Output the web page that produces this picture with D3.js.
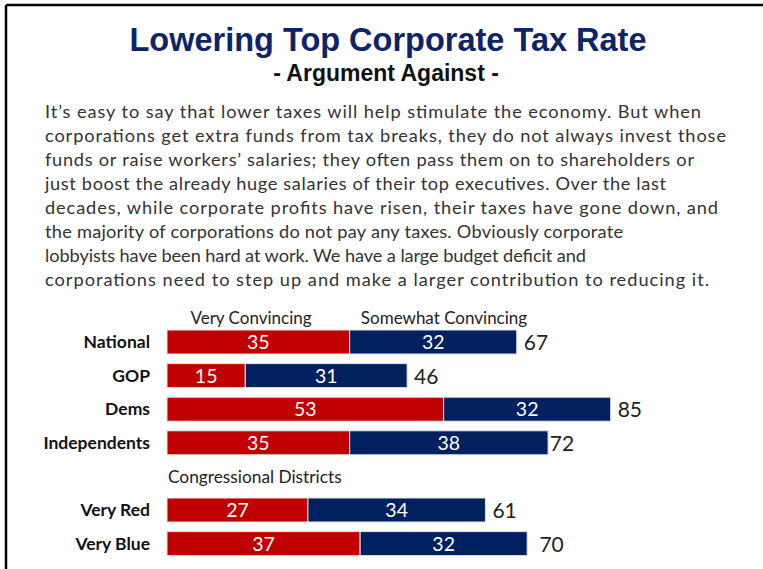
<!DOCTYPE html>
<html>
<head>
<meta charset="utf-8">
<script src="https://cdn.jsdelivr.net/npm/d3@7/dist/d3.min.js"></script>
<style>
  html, body { margin: 0; padding: 0; background: #fff; }
  svg { display: block; }
</style>
</head>
<body>
<svg id="chart" width="763" height="569"></svg>
<script>
// Survey results: share finding the argument convincing
const categories = ["National", "GOP", "Dems", "Independents", "Very Red", "Very Blue"];
const veryConvincing = [35, 15, 53, 35, 27, 37];
const somewhatConvincing = [32, 31, 32, 38, 34, 32];
const totals = [67, 46, 85, 72, 61, 70];
const seriesNames = ["Very Convincing", "Somewhat Convincing"];
const groupHeading = "Congressional Districts";

const titleText = "Lowering Top Corporate Tax Rate";
const subtitleText = "- Argument Against -";
const bodyLines = [
  "It\u2019s easy to say that lower taxes will help stimulate the economy. But when",
  "corporations get extra funds from tax breaks, they do not always invest those",
  "funds or raise workers\u2019 salaries; they often pass them on to shareholders or",
  "just boost the already huge salaries of their top executives. Over the last",
  "decades, while corporate profits have risen, their taxes have gone down, and",
  "the majority of corporations do not pay any taxes. Obviously corporate",
  "lobbyists have been hard at work. We have a large budget deficit and",
  "corporations need to step up and make a larger contribution to reducing it."
];
// set width of each paragraph line (layout only)
const bodyLineWidths = [656, 681, 649, 621, 673, 578, 541, 664];

const RED = "#C00000", NAVY = "#002060";
const bodyFont = "Lato, 'Open Sans', sans-serif";
const headFont = "'Liberation Sans', Arial, sans-serif";

const svg = d3.select("#chart");

// frame lines (left and top)
svg.append("line").attr("x1", 6).attr("y1", 5).attr("x2", 763).attr("y2", 5)
  .attr("stroke", "#000").attr("stroke-width", 2.5);
svg.append("line").attr("x1", 6).attr("y1", 5).attr("x2", 6).attr("y2", 569)
  .attr("stroke", "#000").attr("stroke-width", 2.5);

// title block
svg.append("text").attr("x", 388).attr("y", 51).attr("text-anchor", "middle")
  .attr("font-family", headFont).attr("font-weight", "bold")
  .attr("font-size", 32.5).attr("fill", "#0D2467").text(titleText);
svg.append("text").attr("x", 386).attr("y", 81).attr("text-anchor", "middle")
  .attr("font-family", headFont).attr("font-weight", "bold")
  .attr("font-size", 23).attr("fill", "#111").text(subtitleText);

// argument paragraph
svg.append("g").selectAll("text").data(bodyLines).join("text")
  .attr("x", 45).attr("y", (d, i) => 118 + i * 24)
  .attr("font-family", bodyFont).attr("font-size", 18.2).attr("fill", "#333")
  .attr("textLength", (d, i) => bodyLineWidths[i]).attr("lengthAdjust", "spacing")
  .text(d => d);

// row slots: four groups, a heading slot, then two district rows
const slots = ["National", "GOP", "Dems", "Independents", "__heading", "Very Red", "Very Blue"];
const y = d3.scaleBand().domain(slots).range([325.2, 325.2 + 7 * 33.6])
  .paddingInner(0.286).paddingOuter(0.143);
const x = d3.scaleLinear().domain([0, 100]).range([167, 167 + 522]);

const rows = categories.map((c, i) => ({
  cat: c, v: veryConvincing[i], s: somewhatConvincing[i], t: totals[i]
}));

// legend labels above the bars
svg.append("text").attr("x", 251).attr("y", 324).attr("text-anchor", "middle")
  .attr("font-family", bodyFont).attr("font-size", 17).attr("fill", "#222").text(seriesNames[0]);
svg.append("text").attr("x", 444).attr("y", 324).attr("text-anchor", "middle")
  .attr("font-family", bodyFont).attr("font-size", 17).attr("fill", "#222").text(seriesNames[1]);

// group heading
svg.append("text").attr("x", 168).attr("y", y("__heading") + y.bandwidth() / 2 + 7)
  .attr("font-family", bodyFont).attr("font-size", 17.3).attr("fill", "#222").text(groupHeading);

const g = svg.append("g");
const row = g.selectAll("g.row").data(rows).join("g").attr("class", "row");

row.append("text")
  .attr("x", 150).attr("y", d => y(d.cat) + y.bandwidth() / 2 + 6)
  .attr("text-anchor", "end").attr("font-family", bodyFont).attr("font-weight", "bold")
  .attr("font-size", 17.5).attr("fill", "#111").text(d => d.cat);

row.append("rect")
  .attr("x", x(0)).attr("y", d => y(d.cat))
  .attr("width", d => x(d.v) - x(0)).attr("height", y.bandwidth())
  .attr("fill", RED).attr("stroke", "#dfe3ea").attr("stroke-width", 1);
row.append("rect")
  .attr("x", d => x(d.v)).attr("y", d => y(d.cat))
  .attr("width", d => x(d.v + d.s) - x(d.v)).attr("height", y.bandwidth())
  .attr("fill", NAVY).attr("stroke", "#dfe3ea").attr("stroke-width", 1);

row.append("text")
  .attr("x", d => (x(0) + x(d.v)) / 2).attr("y", d => y(d.cat) + y.bandwidth() / 2 + 7)
  .attr("text-anchor", "middle").attr("font-family", bodyFont).attr("font-size", 19.5)
  .attr("fill", "#fff").text(d => d.v);
row.append("text")
  .attr("x", d => (x(d.v) + x(d.v + d.s)) / 2).attr("y", d => y(d.cat) + y.bandwidth() / 2 + 7)
  .attr("text-anchor", "middle").attr("font-family", bodyFont).attr("font-size", 19.5)
  .attr("fill", "#fff").text(d => d.s);
row.append("text")
  .attr("x", d => x(d.t) + 7).attr("y", d => y(d.cat) + y.bandwidth() / 2 + 8)
  .attr("font-family", bodyFont).attr("font-size", 21)
  .attr("fill", "#222").text(d => d.t);
</script>
</body>
</html>
